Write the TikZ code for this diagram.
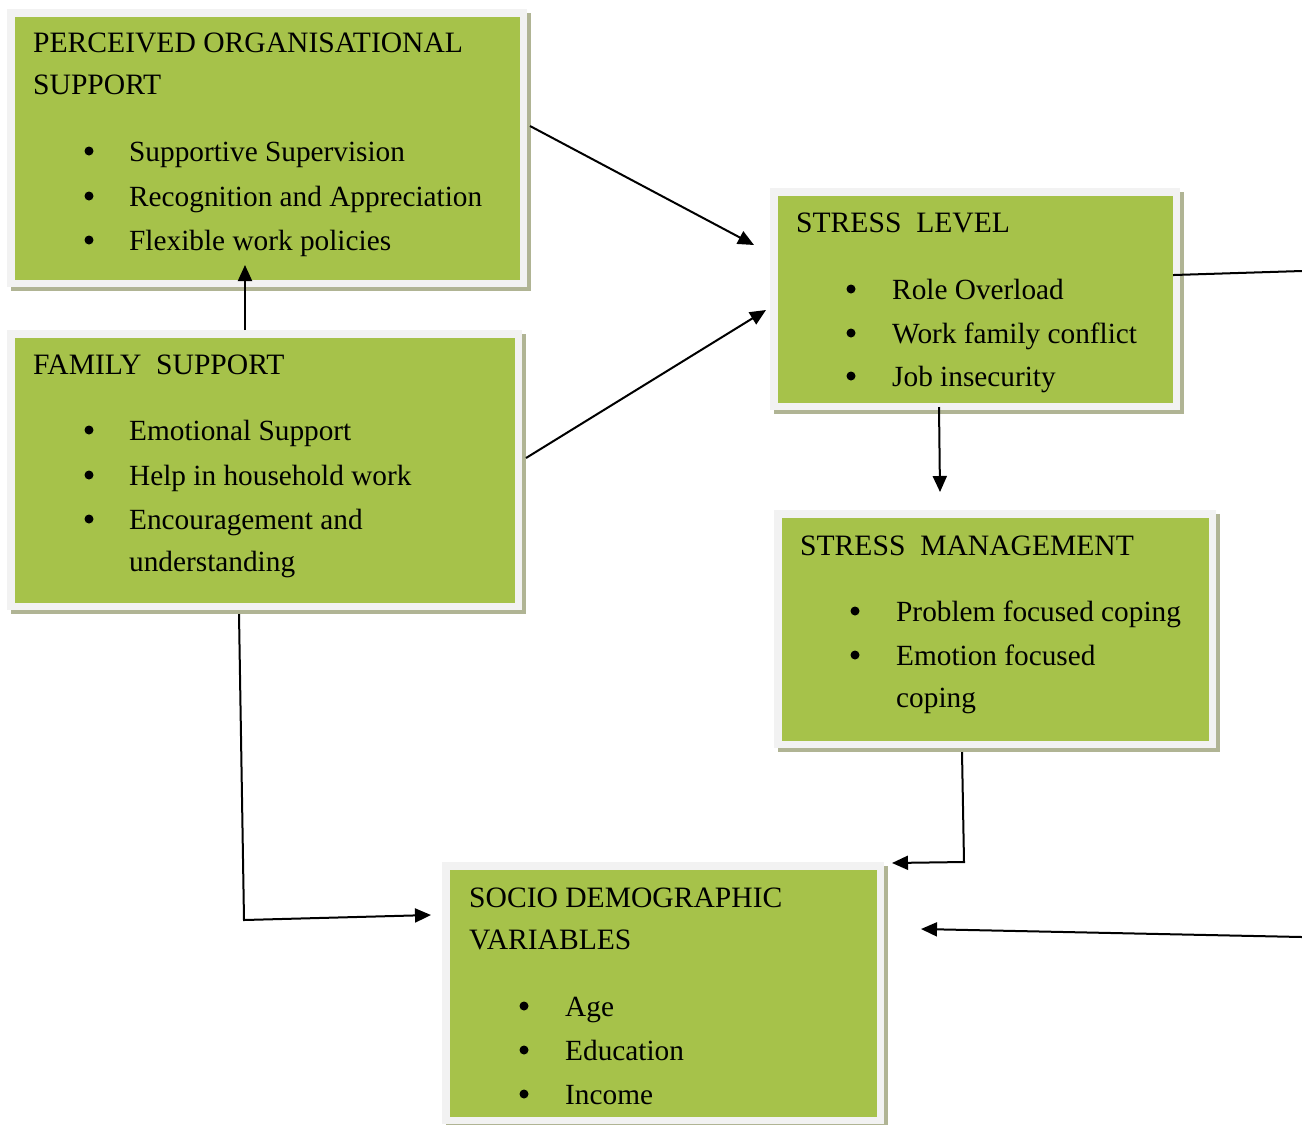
\documentclass[tikz,border=0pt]{standalone}
\usepackage{fontspec}
\setmainfont{Liberation Serif}
\usetikzlibrary{arrows.meta}
\definecolor{boxgreen}{RGB}{166,194,74}
\definecolor{boxrim}{RGB}{242,242,242}
\definecolor{boxshadow}{RGB}{176,180,148}
\newcommand\gbox[5]{%
  \fill[boxshadow] ({#2+4},{#3+4}) rectangle ({#4+4},{#5+4});
  \fill[boxrim] (#2,#3) rectangle (#4,#5);
  \node[gfill, minimum width={(#4-#2-15)*1bp}, minimum height={(#5-#3-15)*1bp}] (#1) at ({(#2+#4)/2},{(#3+#5)/2}) {};
}
\begin{document}
\begin{tikzpicture}[x=1bp,y=-1bp,
  gfill/.style={rectangle, fill=boxgreen, draw=none, inner sep=0pt},
  txt/.style={anchor=base west, inner sep=0pt, font=\fontsize{29.4}{29.4}\selectfont},
  ttl/.style={anchor=base west, inner sep=0pt, font=\fontsize{29.7}{29.7}\selectfont},
  dot/.style={circle, fill=black, inner sep=0pt, minimum size=9bp},
  conn/.style={line width=2bp, line cap=rect},
  arr/.style={line width=2bp, -{Triangle[length=16bp,width=14bp]}}]
\useasboundingbox (0,0) rectangle (1302,1124);

% boxes
\gbox{pos}{7}{9}{527}{287}
\gbox{sl}{770}{188}{1180}{410}
\gbox{sm}{774}{510}{1216}{748}
\gbox{fs}{7}{330}{522}{610}
\gbox{sd}{442}{862}{884}{1124}

% POS text
\node[ttl] (pos1) at (33,52) {PERCEIVED ORGANISATIONAL};
\node[ttl] (pos2) at (33,94) {SUPPORT};
\node[dot] (posd1) at (89,151) {}; \node[txt] (post1) at (129,161) {Supportive Supervision};
\node[dot] (posd2) at (89,196) {}; \node[txt] (post2) at (129,206) {Recognition and Appreciation};
\node[dot] (posd3) at (89,240) {}; \node[txt] (post3) at (129,250) {Flexible work policies};

% Stress level text
\node[ttl] (sl1) at (796,232) {STRESS\ \ LEVEL};
\node[dot] (sld1) at (851,289) {}; \node[txt] (slt1) at (892,299) {Role Overload};
\node[dot] (sld2) at (851,333) {}; \node[txt] (slt2) at (892,343) {Work family conflict};
\node[dot] (sld3) at (851,376) {}; \node[txt] (slt3) at (892,386) {Job insecurity};

% Stress management text
\node[ttl] (sm1) at (800,555) {STRESS\ \ MANAGEMENT};
\node[dot] (smd1) at (855,611) {}; \node[txt] (smt1) at (896,621) {Problem focused coping};
\node[dot] (smd2) at (855,655) {}; \node[txt] (smt2) at (896,665) {Emotion focused};
\node[txt] (smt3) at (896,707) {coping};

% Family support text
\node[ttl] (fs1) at (33,374) {FAMILY\ \ SUPPORT};
\node[dot] (fsd1) at (89,430) {}; \node[txt] (fst1) at (129,440) {Emotional Support};
\node[dot] (fsd2) at (89,475) {}; \node[txt] (fst2) at (129,485) {Help in household work};
\node[dot] (fsd3) at (89,519) {}; \node[txt] (fst3) at (129,529) {Encouragement and};
\node[txt] (fst4) at (129,571) {understanding};

% Socio demographic text
\node[ttl] (sd1) at (469,907) {SOCIO DEMOGRAPHIC};
\node[ttl] (sd2) at (469,949) {VARIABLES};
\node[dot] (sdd1) at (524,1006) {}; \node[txt] (sdt1) at (565,1016) {Age};
\node[dot] (sdd2) at (524,1050) {}; \node[txt] (sdt2) at (565,1060) {Education};
\node[dot] (sdd3) at (524,1094) {}; \node[txt] (sdt3) at (565,1104) {Income};

% connector end points
\coordinate (a1s) at (530,126); \coordinate (a1e) at (754,245);
\coordinate (a2s) at (526,458); \coordinate (a2e) at (766,310);
\coordinate (a3s) at (245,330); \coordinate (a3e) at (245,265);
\coordinate (a4s) at (939,407); \coordinate (a4e) at (940,492);
\coordinate (a5s) at (1174,275); \coordinate (a5e) at (1302,271);
\coordinate (a6s) at (1302,937); \coordinate (a6e) at (921,929);
\coordinate (a7s) at (962,752); \coordinate (a7m) at (964,862); \coordinate (a7e) at (892,863);
\coordinate (a8s) at (239,614); \coordinate (a8m) at (244,920); \coordinate (a8e) at (431,915);

\draw[arr] (a1s) -- (a1e);
\draw[arr] (a2s) -- (a2e);
\draw[arr] (a3s) -- (a3e);
\draw[arr] (a4s) -- (a4e);
\draw[conn] (a5s) -- (a5e);
\draw[arr] (a6s) -- (a6e);
\draw[arr] (a7s) -- (a7m) -- (a7e);
\draw[arr] (a8s) -- (a8m) -- (a8e);
\end{tikzpicture}
\end{document}
